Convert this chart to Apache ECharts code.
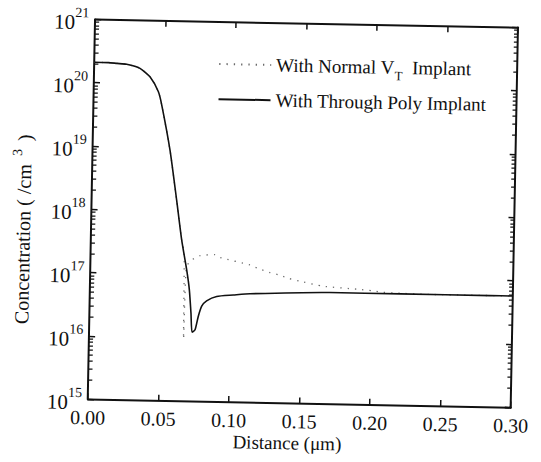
<!DOCTYPE html>
<html>
<head>
<meta charset="utf-8">
<script src="https://cdn.jsdelivr.net/npm/echarts@6/dist/echarts.min.js"></script>
<style>
  html, body { margin: 0; padding: 0; background: #fff; overflow: hidden; }
  #chart { width: 541px; height: 462px; transform: rotate(1.1deg); transform-origin: 50% 50%; }
</style>
</head>
<body>
<div id="chart"></div>
<script>
// Doping profiles vs. depth (µm), concentration in /cm^3
const xTickValues = [0, 0.05, 0.10, 0.15, 0.20, 0.25, 0.30];
const yDecadeExponents = [15, 16, 17, 18, 19, 20, 21];

// Through-poly implant profile
const polyDistance = [0, 0.010, 0.016, 0.0229, 0.0324, 0.0396, 0.0457, 0.0483, 0.0548, 0.0602,
  0.0643, 0.0683, 0.0704, 0.0719, 0.0729, 0.0750, 0.0771, 0.0794, 0.0828, 0.0899,
  0.1016, 0.1135, 0.170, 0.220, 0.2837, 0.300];
const polyConc = [2.1e20, 2.1e20, 2.05e20, 2.0e20, 1.74e20, 1.29e20, 7.6e19, 4.7e19, 9.1e18, 1.48e18,
  3.5e17, 1.17e17, 5.8e16, 2.45e16, 1.23e16, 1.35e16, 2.2e16, 3.2e16, 3.9e16, 4.6e16,
  4.9e16, 5.2e16, 5.75e16, 5.75e16, 5.75e16, 5.75e16];

// Normal V_T implant profile
const normalDistance = [0, 0.010, 0.016, 0.0229, 0.0324, 0.0396, 0.0457, 0.0483, 0.0548, 0.0602,
  0.0643, 0.0662, 0.0670, 0.0680, 0.0717, 0.0775, 0.0882, 0.0917, 0.1131, 0.1197,
  0.1269, 0.1338, 0.1409, 0.1511, 0.1649, 0.1896, 0.2005, 0.2080, 0.2175, 0.240, 0.270, 0.300];
const normalConc = [2.1e20, 2.1e20, 2.05e20, 2.0e20, 1.74e20, 1.29e20, 7.6e19, 4.7e19, 9.1e18, 1.48e18,
  3.5e17, 2.24e17, 9.5e15, 1.32e17, 1.7e17, 2.0e17, 2.1e17, 1.9e17, 1.48e17, 1.29e17,
  1.15e17, 1.05e17, 9.3e16, 8.3e16, 7.2e16, 6.6e16, 6.3e16, 6.0e16, 5.9e16, 5.75e16, 5.75e16, 5.75e16];

const NAME_NORMAL = 'With Normal VT Implant';
const NAME_POLY = 'With Through Poly Implant';

const FONT = 'Liberation Serif';
const INK = '#111';

// minor log ticks (2..9 within each decade), expressed in log10 units
const minorLogTicks = [];
for (let d = yDecadeExponents[0]; d < yDecadeExponents[yDecadeExponents.length - 1]; d++) {
  for (let k = 2; k <= 9; k++) minorLogTicks.push(d + Math.log10(k));
}

const pair = (xs, ys) => xs.map((x, i) => [x, ys[i]]);

const frameLine = () => ({ show: true, onZero: false, lineStyle: { color: INK, width: 2 } });
const majorTick = () => ({ show: true, inside: true, length: 6, lineStyle: { color: INK, width: 1.5 } });
const minorTick = () => ({ show: true, inside: true, length: 4, lineStyle: { color: INK, width: 1.2 }, customValues: minorLogTicks.slice() });

const yMin = Math.pow(10, yDecadeExponents[0]);
const yMax = Math.pow(10, yDecadeExponents[yDecadeExponents.length - 1]);

const chart = echarts.init(document.getElementById('chart'), null, { renderer: 'svg' });

const legendRich = {
  t: { fontFamily: FONT, fontSize: 19, color: INK, lineHeight: 22 },
  u: { fontFamily: FONT, fontSize: 13, color: INK, lineHeight: 22, verticalAlign: 'bottom', padding: [0, 0, -4, 0] }
};
const legendFormatter = name => name === NAME_NORMAL
  ? '{t|With Normal V}{u|T}{t|  Implant}'
  : '{t|With Through Poly Implant}';

const legendBase = () => ({
  orient: 'vertical',
  left: 210,
  itemWidth: 52,
  itemHeight: 10,
  itemGap: 0,
  selectedMode: false,
  formatter: legendFormatter,
  itemStyle: { opacity: 0, borderWidth: 0 },
  textStyle: { rich: legendRich }
});

chart.setOption({
  animation: false,
  backgroundColor: '#fff',
  grid: { left: 91.2, right: 26.8, top: 22.8, bottom: 59.2 },
  legend: [
    Object.assign(legendBase(), { top: 50.5, data: [NAME_NORMAL] }),
    Object.assign(legendBase(), { top: 85.7, data: [NAME_POLY] })
  ],
  xAxis: [
    {
      type: 'value', position: 'bottom',
      min: xTickValues[0], max: xTickValues[xTickValues.length - 1], interval: 0.05,
      axisLine: frameLine(), axisTick: majorTick(), splitLine: { show: false },
      axisLabel: {
        margin: 8, fontFamily: FONT, fontSize: 20, color: INK,
        formatter: v => v.toFixed(2)
      }
    },
    {
      type: 'value', position: 'top',
      min: xTickValues[0], max: xTickValues[xTickValues.length - 1], interval: 0.05,
      axisLine: frameLine(), axisTick: majorTick(), splitLine: { show: false },
      axisLabel: { show: false }
    }
  ],
  yAxis: [
    {
      type: 'log', position: 'left', min: yMin, max: yMax, logBase: 10,
      axisLine: frameLine(), axisTick: majorTick(), splitLine: { show: false },
      axisLabel: {
        margin: 6,
        formatter: v => '{b|10}{s|' + Math.round(Math.log10(v)) + '}',
        rich: {
          b: { fontFamily: FONT, fontSize: 21, color: INK, lineHeight: 27, verticalAlign: 'bottom' },
          s: { fontFamily: FONT, fontSize: 14, color: INK, lineHeight: 14, verticalAlign: 'top' }
        }
      }
    },
    {
      type: 'log', position: 'right', min: yMin, max: yMax, logBase: 10,
      axisLine: frameLine(), axisTick: majorTick(), splitLine: { show: false },
      axisLabel: { show: false }
    },
    {
      type: 'value', position: 'left', min: yDecadeExponents[0], max: yDecadeExponents[yDecadeExponents.length - 1],
      axisLine: { show: false, onZero: false }, axisTick: minorTick(), splitLine: { show: false },
      axisLabel: { show: false }
    },
    {
      type: 'value', position: 'right', min: yDecadeExponents[0], max: yDecadeExponents[yDecadeExponents.length - 1],
      axisLine: { show: false, onZero: false }, axisTick: minorTick(), splitLine: { show: false },
      axisLabel: { show: false }
    }
  ],
  graphic: [
    {
      type: 'text', x: 21, y: 234, rotation: Math.PI / 2,
      style: {
        text: '{t|Concentration ( /cm }{s|3}{t| )}',
        align: 'center', verticalAlign: 'middle',
        rich: {
          t: { fontFamily: FONT, fontSize: 20, fill: INK, lineHeight: 24, verticalAlign: 'bottom' },
          s: { fontFamily: FONT, fontSize: 14, fill: INK, lineHeight: 14, verticalAlign: 'top', padding: [0, 3, 0, 3] }
        }
      }
    },
    {
      type: 'text', x: 291, y: 442.5,
      style: {
        text: 'Distance (μm)', align: 'center', verticalAlign: 'middle',
        fontFamily: FONT, fontSize: 19, fill: INK
      }
    }
  ],
  series: [
    {
      name: NAME_NORMAL, type: 'line', xAxisIndex: 0, yAxisIndex: 0,
      data: pair(normalDistance, normalConc),
      symbol: 'none', showSymbol: false, smooth: 0.2,
      lineStyle: { color: '#6a6a6a', width: 1.3, type: [1.3, 6] },
      z: 2
    },
    {
      name: NAME_POLY, type: 'line', xAxisIndex: 0, yAxisIndex: 0,
      data: pair(polyDistance, polyConc),
      symbol: 'none', showSymbol: false, smooth: 0.2,
      lineStyle: { color: INK, width: 1.6, type: 'solid' },
      z: 3
    }
  ]
});
</script>
</body>
</html>
